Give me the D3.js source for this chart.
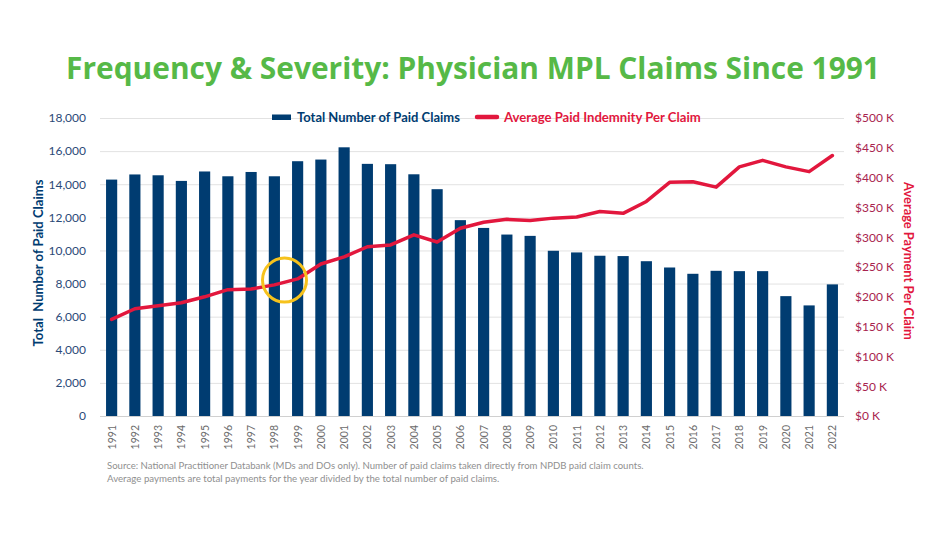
<!DOCTYPE html>
<html>
<head>
<meta charset="utf-8">
<script src="https://cdn.jsdelivr.net/npm/d3@7"></script>
<style>
  html, body { margin: 0; padding: 0; background: #fff; }
  svg { display: block; }
  text { font-family: Lato, "Open Sans", sans-serif; }
</style>
</head>
<body>
<svg id="chart" width="950" height="534"></svg>
<script>
const years = [1991,1992,1993,1994,1995,1996,1997,1998,1999,2000,2001,2002,2003,2004,2005,2006,2007,2008,2009,2010,2011,2012,2013,2014,2015,2016,2017,2018,2019,2020,2021,2022];
const paidClaims = [14280,14590,14540,14200,14770,14480,14740,14480,15390,15490,16230,15230,15210,14600,13700,11830,11360,10960,10880,9980,9880,9680,9660,9350,8970,8590,8770,8750,8750,7240,6680,7950];
const avgPayment = [162,180,185,190,200,212,213,220,230,255,267,284,287,304,292,315,325,330,328,332,334,343,340,360,392,393,384,418,429,418,410,437];
const leftTicks = [0,2000,4000,6000,8000,10000,12000,14000,16000,18000];
const rightTicks = [0,50,100,150,200,250,300,350,400,450,500];
const highlightYear = 1998;
const highlightValue = 228;

const title = "Frequency & Severity: Physician MPL Claims Since 1991";
const leftLabel = "Total  Number of Paid Claims";
const rightLabel = "Average Payment Per Claim";
const legendBars = "Total Number of Paid Claims";
const legendLine = "Average Paid Indemnity Per Claim";
const sourceLines = [
  "Source: National Practitioner Databank (MDs and DOs only). Number of paid claims taken directly from NPDB paid claim counts.",
  "Average payments are total payments for the year divided by the total number of paid claims."
];

const BLUE = "#003C71", RED = "#E2173D", GREEN = "#56B947", RTICK = "#A8234E", LTICK = "#2B4A78";

const svg = d3.select("#chart");
const m = {left: 100, right: 844, top: 118, bottom: 416};

const x = d3.scaleBand().domain(years).range([m.left, m.right]).paddingInner(0.52).paddingOuter(0.26);
const yL = d3.scaleLinear().domain([0, 18000]).range([m.bottom, m.top]);
const yR = d3.scaleLinear().domain([0, 500]).range([m.bottom, m.top]);

function fit(sel, w) {
  const n = sel.node();
  const cur = n.getComputedTextLength();
  const fs = parseFloat(sel.attr("font-size"));
  sel.attr("font-size", fs * w / cur);
}

// Title
const t = svg.append("text").attr("x", 473).attr("y", 79).attr("text-anchor", "middle")
  .attr("font-size", 34).attr("font-weight", 700).attr("fill", GREEN)
  .style("font-family", "'Open Sans', sans-serif").text(title);
fit(t, 814);

// Gridlines
svg.append("g").selectAll("line").data(leftTicks).join("line")
  .attr("x1", m.left).attr("x2", m.right)
  .attr("y1", d => yL(d) + 0.5).attr("y2", d => yL(d) + 0.5)
  .attr("stroke", d => d === 0 ? "#d0d0d0" : "#e2e2e2").attr("stroke-width", 1);

// Left axis
const gL = svg.append("g").attr("transform", `translate(86,0)`)
  .call(d3.axisLeft(yL).tickValues(leftTicks).tickFormat(d3.format(",")).tickSize(0).tickPadding(0));
gL.select(".domain").remove();
gL.selectAll("text").attr("font-size", 12).attr("fill", LTICK).attr("font-family", "Lato, sans-serif");

// Right axis
const gR = svg.append("g").attr("transform", `translate(855,0)`)
  .call(d3.axisRight(yR).tickValues(rightTicks).tickFormat(d => "$" + d + " K").tickSize(0).tickPadding(0));
gR.select(".domain").remove();
gR.selectAll("text").attr("font-size", 12).attr("fill", RTICK).attr("font-family", "Lato, sans-serif");

// Bars
svg.append("g").selectAll("rect").data(years).join("rect")
  .attr("x", d => x(d)).attr("width", x.bandwidth())
  .attr("y", (d, i) => yL(paidClaims[i])).attr("height", (d, i) => yL(0) - yL(paidClaims[i]))
  .attr("fill", BLUE);

// Line
const line = d3.line().x((d, i) => x(years[i]) + x.bandwidth() / 2).y(d => yR(d));
svg.append("path").datum(avgPayment).attr("d", line)
  .attr("fill", "none").attr("stroke", RED).attr("stroke-width", 3.5)
  .attr("stroke-linejoin", "round").attr("stroke-linecap", "round");

// Highlight circle (between the 1998 and 1999 bars)
svg.append("circle")
  .attr("cx", x(highlightYear) + x.bandwidth() + (x.step() - x.bandwidth()) / 2 - 1.5)
  .attr("cy", yR(highlightValue)).attr("r", 22)
  .attr("fill", "none").attr("stroke", "#F6C21C").attr("stroke-width", 3);

// X labels
svg.append("g").selectAll("text").data(years).join("text")
  .attr("transform", d => `translate(${x(d) + x.bandwidth() / 2 + 4},425) rotate(-90)`)
  .attr("text-anchor", "end").attr("font-size", 10.5).attr("fill", "#6b6b6b").text(d => d);

// Axis titles
const lt = svg.append("text").attr("transform", "translate(43,263) rotate(-90)")
  .attr("text-anchor", "middle").attr("font-size", 13).attr("font-weight", 700).attr("fill", BLUE)
  .style("white-space", "pre").text(leftLabel);
fit(lt, 167);
const rt = svg.append("text").attr("transform", "translate(904,261) rotate(90)")
  .attr("text-anchor", "middle").attr("font-size", 13).attr("font-weight", 700).attr("fill", RED)
  .text(rightLabel);
fit(rt, 158);

// Legend
svg.append("rect").attr("x", 272).attr("y", 114.5).attr("width", 19).attr("height", 5.5).attr("fill", BLUE);
const lb = svg.append("text").attr("x", 297).attr("y", 121.5).attr("font-size", 12.5).attr("font-weight", 700)
  .attr("fill", BLUE).text(legendBars);
fit(lb, 163);
svg.append("line").attr("x1", 477).attr("x2", 497).attr("y1", 117).attr("y2", 117)
  .attr("stroke", RED).attr("stroke-width", 4.5).attr("stroke-linecap", "round");
const ll = svg.append("text").attr("x", 504).attr("y", 121.5).attr("font-size", 12.5).attr("font-weight", 700)
  .attr("fill", RED).text(legendLine);
fit(ll, 197);

// Source
const src = svg.append("g");
sourceLines.forEach((s, i) => {
  const st = src.append("text").attr("x", 107).attr("y", 469 + i * 13).attr("font-size", 10.5)
    .attr("fill", "#8f8f8f").text(s);
  fit(st, i === 0 ? 537 : 393);
});
</script>
</body>
</html>
